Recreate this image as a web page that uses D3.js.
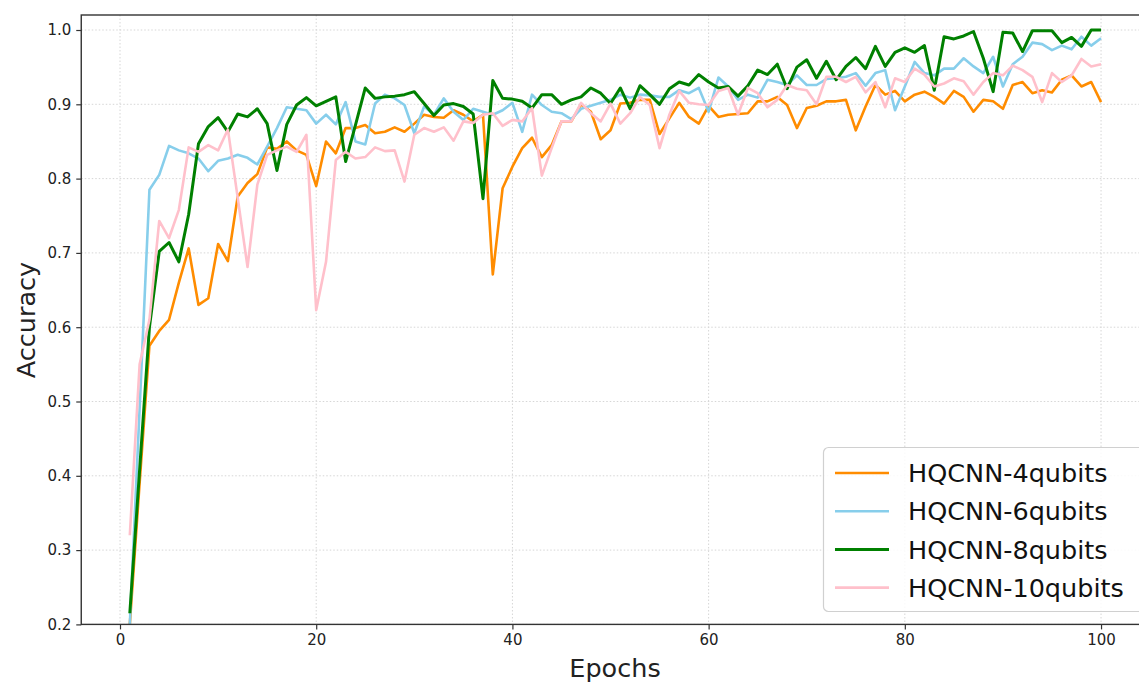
<!DOCTYPE html>
<html>
<head>
<meta charset="utf-8">
<script src="https://cdn.jsdelivr.net/npm/d3@7"></script>
<style>
  body { margin: 0; background: #fff; }
  svg { display: block; font-family: "DejaVu Sans", sans-serif; }
</style>
</head>
<body>
<svg id="chart" width="1139" height="682"></svg>
<script>
const epochs = d3.range(1, 101);

const seriesNames = ["HQCNN-4qubits", "HQCNN-6qubits", "HQCNN-8qubits", "HQCNN-10qubits"];
const seriesColors = ["#ff8c00", "#87ceeb", "#008000", "#ffc0cb"];

const acc4 = [
  0.20, 0.39, 0.575, 0.595, 0.61, 0.66, 0.706, 0.63, 0.639, 0.712,
  0.689, 0.776, 0.794, 0.806, 0.842, 0.84, 0.85, 0.838, 0.832, 0.79,
  0.85, 0.834, 0.868, 0.868, 0.872, 0.861, 0.863, 0.869, 0.863, 0.874,
  0.886, 0.883, 0.882, 0.892, 0.886, 0.877, 0.886, 0.671, 0.787, 0.816,
  0.841, 0.855, 0.829, 0.845, 0.877, 0.877, 0.9, 0.89, 0.853, 0.865,
  0.901, 0.902, 0.906, 0.906, 0.86, 0.881, 0.902, 0.883, 0.874, 0.898,
  0.883, 0.886, 0.887, 0.888, 0.904, 0.904, 0.91, 0.899, 0.868, 0.895,
  0.898, 0.904, 0.904, 0.906, 0.865, 0.897, 0.926, 0.913, 0.918, 0.904,
  0.913, 0.917, 0.91, 0.901, 0.918, 0.91, 0.89, 0.906, 0.904, 0.894,
  0.926, 0.93, 0.915, 0.919, 0.916, 0.933, 0.939, 0.924, 0.93, 0.903
];

const acc6 = [
  0.20, 0.49, 0.785, 0.805, 0.844, 0.838, 0.834, 0.827, 0.81, 0.824,
  0.827, 0.832, 0.828, 0.819, 0.843, 0.868, 0.896, 0.894, 0.892, 0.874,
  0.886, 0.873, 0.903, 0.85, 0.846, 0.901, 0.913, 0.908, 0.899, 0.861,
  0.897, 0.886, 0.908, 0.89, 0.879, 0.894, 0.89, 0.886, 0.892, 0.902,
  0.863, 0.913, 0.899, 0.89, 0.888, 0.88, 0.894, 0.898, 0.902, 0.906,
  0.913, 0.909, 0.913, 0.912, 0.91, 0.91, 0.919, 0.915, 0.922, 0.89,
  0.936, 0.924, 0.906, 0.913, 0.909, 0.933, 0.93, 0.926, 0.939, 0.926,
  0.926, 0.934, 0.935, 0.937, 0.942, 0.925, 0.942, 0.946, 0.892, 0.924,
  0.957, 0.942, 0.939, 0.948, 0.948, 0.962, 0.951, 0.942, 0.964, 0.924,
  0.954, 0.964, 0.983, 0.981, 0.973, 0.979, 0.974, 0.991, 0.979, 0.989
];

const acc8 = [
  0.215, 0.408, 0.60, 0.702, 0.714, 0.688, 0.752, 0.847, 0.87, 0.882,
  0.863, 0.887, 0.883, 0.894, 0.874, 0.811, 0.873, 0.899, 0.909, 0.898,
  0.904, 0.91, 0.823, 0.872, 0.922, 0.908, 0.91, 0.911, 0.913, 0.917,
  0.901, 0.885, 0.899, 0.901, 0.897, 0.887, 0.773, 0.932, 0.908, 0.907,
  0.904, 0.895, 0.913, 0.913, 0.9, 0.906, 0.91, 0.922, 0.915, 0.901,
  0.922, 0.894, 0.925, 0.913, 0.9, 0.921, 0.93, 0.926, 0.94, 0.93,
  0.922, 0.924, 0.911, 0.925, 0.946, 0.94, 0.954, 0.921, 0.95, 0.96,
  0.935, 0.958, 0.933, 0.951, 0.963, 0.948, 0.978, 0.951, 0.97, 0.976,
  0.97, 0.979, 0.919, 0.991, 0.988, 0.992, 0.998, 0.962, 0.917, 0.997,
  0.996, 0.971, 0.999, 0.999, 0.999, 0.983, 0.99, 0.978, 1.0, 1.0
];

const acc10 = [
  0.32, 0.55, 0.61, 0.743, 0.72, 0.758, 0.842, 0.836, 0.845, 0.838,
  0.866, 0.774, 0.681, 0.792, 0.832, 0.838, 0.843, 0.836, 0.859, 0.623,
  0.688, 0.825, 0.836, 0.827, 0.829, 0.842, 0.837, 0.838, 0.796, 0.859,
  0.868, 0.863, 0.869, 0.851, 0.877, 0.875, 0.886, 0.888, 0.871, 0.879,
  0.877, 0.895, 0.804, 0.841, 0.877, 0.877, 0.902, 0.888, 0.877, 0.901,
  0.874, 0.888, 0.91, 0.899, 0.841, 0.886, 0.918, 0.902, 0.9, 0.899,
  0.918, 0.922, 0.886, 0.922, 0.915, 0.896, 0.906, 0.926, 0.921, 0.919,
  0.9, 0.937, 0.937, 0.93, 0.937, 0.916, 0.93, 0.896, 0.935, 0.93,
  0.948, 0.94, 0.924, 0.928, 0.935, 0.931, 0.913, 0.93, 0.942, 0.939,
  0.952, 0.946, 0.937, 0.903, 0.942, 0.93, 0.939, 0.961, 0.951, 0.954
];

const xTicks = [0, 20, 40, 60, 80, 100];
const yTicks = [0.2, 0.3, 0.4, 0.5, 0.6, 0.7, 0.8, 0.9, 1.0];

const allSeries = [acc4, acc6, acc8, acc10];

(function () {
const svg = d3.select("#chart");
const W = 1139, H = 682;
const pL = 81.25, pR = 1149.6, pT = 15, pB = 624.4;

const x = d3.scaleLinear().domain([-3.95, 104.95]).range([pL, pR]);
const y = d3.scaleLinear().domain([0.2, 1.0202]).range([pB, pT]);

svg.append("rect").attr("width", W).attr("height", H).attr("fill", "#fff");

svg.append("defs").append("clipPath").attr("id", "clip")
  .append("rect").attr("x", pL).attr("y", pT)
  .attr("width", pR - pL).attr("height", pB - pT);

// grid
const grid = svg.append("g");
grid.selectAll("line.gx").data(xTicks).join("line")
  .attr("x1", d => x(d)).attr("x2", d => x(d))
  .attr("y1", pT).attr("y2", pB)
  .attr("stroke", "#d6d6d6").attr("stroke-width", 1)
  .attr("stroke-dasharray", "1.5,2");
grid.selectAll("line.gy").data(yTicks).join("line")
  .attr("x1", pL).attr("x2", W)
  .attr("y1", d => y(d)).attr("y2", d => y(d))
  .attr("stroke", "#d6d6d6").attr("stroke-width", 1)
  .attr("stroke-dasharray", "1.5,2");

// lines
const line = d3.line().x((d, i) => x(epochs[i])).y(d => y(d));
const lines = svg.append("g").attr("clip-path", "url(#clip)");
allSeries.forEach((s, k) => {
  lines.append("path").datum(s)
    .attr("d", line)
    .attr("fill", "none")
    .attr("stroke", seriesColors[k])
    .attr("stroke-width", k === 2 ? 3 : 2.6)
    .attr("stroke-linejoin", "round")
    .attr("stroke-linecap", "butt");
});

// axes
const xAxis = d3.axisBottom(x).tickValues(xTicks).tickFormat(d3.format("d")).tickSize(5).tickPadding(5);
const yAxis = d3.axisLeft(y).tickValues(yTicks).tickFormat(d3.format(".1f")).tickSize(5).tickPadding(5);

const gx = svg.append("g").attr("transform", `translate(0,${pB})`).call(xAxis);
const gy = svg.append("g").attr("transform", `translate(${pL},0)`).call(yAxis);
[gx, gy].forEach(g => {
  g.select(".domain").remove();
  g.selectAll(".tick line").attr("stroke", "#333").attr("stroke-width", 1.2);
  g.selectAll(".tick text").attr("fill", "#222").style("font-size", "15px")
    .style("font-family", "DejaVu Sans, sans-serif");
});

// spines
svg.append("rect").attr("x", pL).attr("y", pT)
  .attr("width", pR - pL).attr("height", pB - pT)
  .attr("fill", "none").attr("stroke", "#333").attr("stroke-width", 1.4);

// axis labels
svg.append("text").attr("x", 615).attr("y", 677)
  .attr("text-anchor", "middle").attr("fill", "#222")
  .style("font-size", "25.5px").text("Epochs");
svg.append("text")
  .attr("transform", "translate(35,320) rotate(-90)")
  .attr("text-anchor", "middle").attr("fill", "#222")
  .style("font-size", "25.5px").text("Accuracy");

// legend
const lg = svg.append("g");
lg.append("rect").attr("x", 823.5).attr("y", 447.5).attr("rx", 5).attr("ry", 5)
  .attr("width", 330).attr("height", 164)
  .attr("fill", "rgba(255,255,255,0.85)").attr("stroke", "#d0d0d0").attr("stroke-width", 1.2);
seriesNames.forEach((name, k) => {
  const cy = 473 + k * 38.2;
  lg.append("line").attr("x1", 835).attr("x2", 889).attr("y1", cy).attr("y2", cy)
    .attr("stroke", seriesColors[k]).attr("stroke-width", k === 2 ? 3 : 2.6);
  lg.append("text").attr("x", 908).attr("y", cy).attr("dy", "0.36em")
    .attr("fill", "#111").style("font-size", "25.5px").text(name);
});
})();
</script>
</body>
</html>
